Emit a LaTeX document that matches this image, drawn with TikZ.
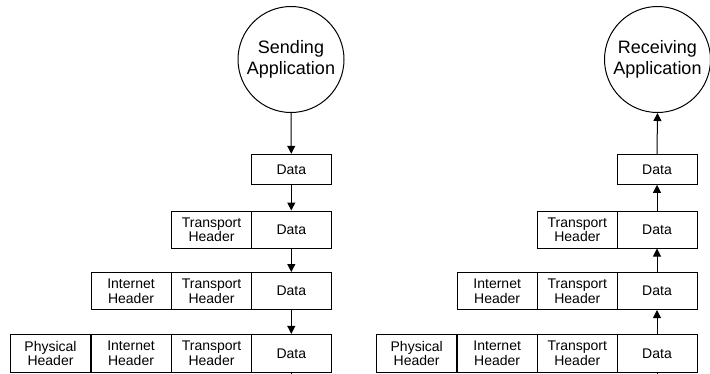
\documentclass[tikz,border=0pt]{standalone}
\usepackage{fontspec}
\setmainfont{Liberation Sans}
\usetikzlibrary{arrows.meta}
\begin{document}
\begin{tikzpicture}[x=1pt,y=-1pt,
  app/.style={draw,circle,line width=1pt,minimum size=106pt,inner sep=0pt,
    align=center,font=\fontsize{18}{21}\selectfont},
  cell/.style={draw,line width=1pt,minimum width=80pt,minimum height=37pt,
    inner sep=0pt,align=center,font=\fontsize{14}{14.5}\selectfont},
  topcell/.style={cell,minimum height=30pt},
  arr/.style={line width=1pt,-{Triangle[length=8pt,width=8pt]}},
  stem/.style={line width=1pt}]
\clip (0,0) rectangle (710,373);
% sending side
\node[app] (sa) at (291,59.5) {Sending\\Application};
\node[topcell] (s1d) at (291.3,169.3) {Data};
\node[cell] (s2d) at (291.3,229.5) {Data};
\node[cell] (s2t) at (211.5,229.5) {Transport\\Header};
\node[cell] (s3d) at (291.3,291) {Data};
\node[cell] (s3t) at (211.5,291) {Transport\\Header};
\node[cell] (s3i) at (131,291) {Internet\\Header};
\node[cell,minimum height=38pt] (s4d) at (291.3,353.4) {Data};
\node[cell,minimum height=38pt] (s4t) at (211.5,353.4) {Transport\\Header};
\node[cell,minimum height=38pt] (s4i) at (131,353.4) {Internet\\Header};
\node[cell,minimum height=38pt] (s4p) at (50.5,353.4) {Physical\\Header};
\coordinate (sout) at (291.3,385);
\draw[arr] (sa.south) -- (s1d.north);
\draw[arr] (s1d.south) -- (s2d.north);
\draw[arr] (s2d.south) -- (s3d.north);
\draw[arr] (s3d.south) -- (s4d.north);
\draw[stem] (s4d.south) -- (sout);
% receiving side
\node[app] (ra) at (657.5,59.5) {Receiving\\Application};
\node[topcell] (r1d) at (657,169.3) {Data};
\node[cell] (r2d) at (657,229.5) {Data};
\node[cell] (r2t) at (577.3,229.5) {Transport\\Header};
\node[cell] (r3d) at (657,291) {Data};
\node[cell] (r3t) at (577.3,291) {Transport\\Header};
\node[cell] (r3i) at (497.2,291) {Internet\\Header};
\node[cell,minimum height=38pt] (r4d) at (657,353.4) {Data};
\node[cell,minimum height=38pt] (r4t) at (577.3,353.4) {Transport\\Header};
\node[cell,minimum height=38pt] (r4i) at (497.2,353.4) {Internet\\Header};
\node[cell,minimum height=38pt] (r4p) at (416.7,353.4) {Physical\\Header};
\coordinate (rin) at (657,385);
\draw[stem] (rin) -- (r4d.south);
\draw[arr] (r4d.north) -- (r3d.south);
\draw[arr] (r3d.north) -- (r2d.south);
\draw[arr] (r2d.north) -- (r1d.south);
\draw[arr] (r1d.north) -- (ra.south);
\end{tikzpicture}
\end{document}
